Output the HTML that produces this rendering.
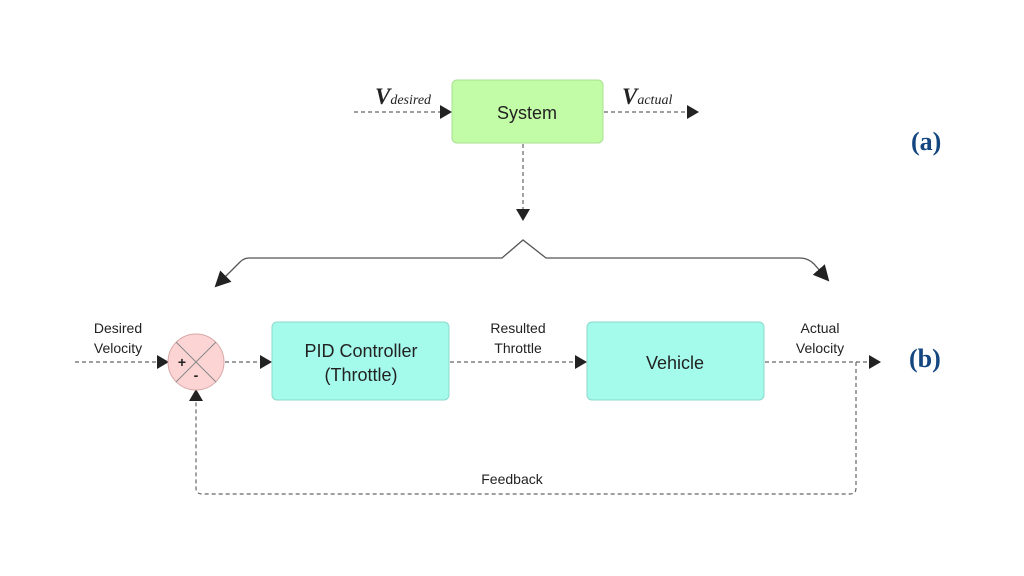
<!DOCTYPE html>
<html><head><style>
body{margin:0;background:#fff;}
svg{display:block}
.t{font-family:"Liberation Sans",sans-serif;fill:#222}
</style></head><body>
<svg width="1024" height="576" viewBox="0 0 1024 576">
<defs>
<marker id="a" markerWidth="12" markerHeight="14" refX="11" refY="7" orient="auto" markerUnits="userSpaceOnUse"><path d="M0,0 L12,7 L0,14 z" fill="#222"/></marker>
<marker id="b" markerWidth="16" markerHeight="16" refX="14" refY="8" orient="auto" markerUnits="userSpaceOnUse"><path d="M0,0 L16,8 L0,16 z" fill="#222"/></marker>
</defs>
<g stroke="#666" stroke-width="1.2" stroke-dasharray="4,3" fill="none">
<line x1="354" y1="112" x2="451" y2="112" marker-end="url(#a)"/>
<line x1="604" y1="112" x2="698" y2="112" marker-end="url(#a)"/>
<line x1="523" y1="144" x2="523" y2="220" marker-end="url(#a)"/>
<line x1="75" y1="362" x2="168" y2="362" marker-end="url(#a)"/>
<line x1="225" y1="362" x2="271" y2="362" marker-end="url(#a)"/>
<line x1="450" y1="362" x2="586" y2="362" marker-end="url(#a)"/>
<line x1="765" y1="362" x2="880" y2="362" marker-end="url(#a)"/>
<path d="M856,362 V488 Q856,494 850,494 H202 Q196,494 196,488 V390" marker-end="url(#a)"/>
</g>
<path d="M249,258 H502 L523,240 L546,258 H800 Q808,258 814,264 L828,280" stroke="#555" stroke-width="1.3" fill="none" marker-end="url(#b)"/>
<path d="M249,258 Q244,258 240,262 L216,286" stroke="#555" stroke-width="1.3" fill="none" marker-end="url(#b)"/>
<rect x="452" y="80" width="151" height="63" rx="5" fill="#c2fca6" stroke="#a8e090"/>
<text x="527" y="119" text-anchor="middle" class="t" font-size="18">System</text>
<text x="375" y="104" font-family="Liberation Serif,serif" font-style="italic" font-weight="bold" font-size="23" fill="#222">V<tspan font-size="14" font-weight="normal">desired</tspan></text>
<text x="622" y="104" font-family="Liberation Serif,serif" font-style="italic" font-weight="bold" font-size="23" fill="#222">V<tspan font-size="14" font-weight="normal">actual</tspan></text>
<text x="911" y="150" font-family="Liberation Serif,serif" font-weight="bold" font-size="26" fill="#14467f">(a)</text>
<text x="909" y="367" font-family="Liberation Serif,serif" font-weight="bold" font-size="26" fill="#14467f">(b)</text>
<circle cx="196" cy="362" r="28" fill="#fdd4d4" stroke="#d8a8a8"/>
<line x1="176" y1="342" x2="216" y2="382" stroke="#888"/>
<line x1="216" y1="342" x2="176" y2="382" stroke="#888"/>
<text x="182" y="367" class="t" font-size="14" font-weight="bold" text-anchor="middle">+</text>
<text x="196" y="380" class="t" font-size="14" font-weight="bold" text-anchor="middle">-</text>
<rect x="272" y="322" width="177" height="78" rx="5" fill="#a4fbec" stroke="#8cd8cc"/>
<text x="361" y="357" text-anchor="middle" class="t" font-size="18">PID Controller</text>
<text x="361" y="381" text-anchor="middle" class="t" font-size="18">(Throttle)</text>
<rect x="587" y="322" width="177" height="78" rx="5" fill="#a4fbec" stroke="#8cd8cc"/>
<text x="675" y="369" text-anchor="middle" class="t" font-size="18">Vehicle</text>
<text x="118" y="333" text-anchor="middle" class="t" font-size="14">Desired</text>
<text x="118" y="353" text-anchor="middle" class="t" font-size="14">Velocity</text>
<text x="518" y="333" text-anchor="middle" class="t" font-size="14">Resulted</text>
<text x="518" y="353" text-anchor="middle" class="t" font-size="14">Throttle</text>
<text x="820" y="333" text-anchor="middle" class="t" font-size="14">Actual</text>
<text x="820" y="353" text-anchor="middle" class="t" font-size="14">Velocity</text>
<text x="512" y="484" text-anchor="middle" class="t" font-size="14">Feedback</text>
</svg>
</body></html>
